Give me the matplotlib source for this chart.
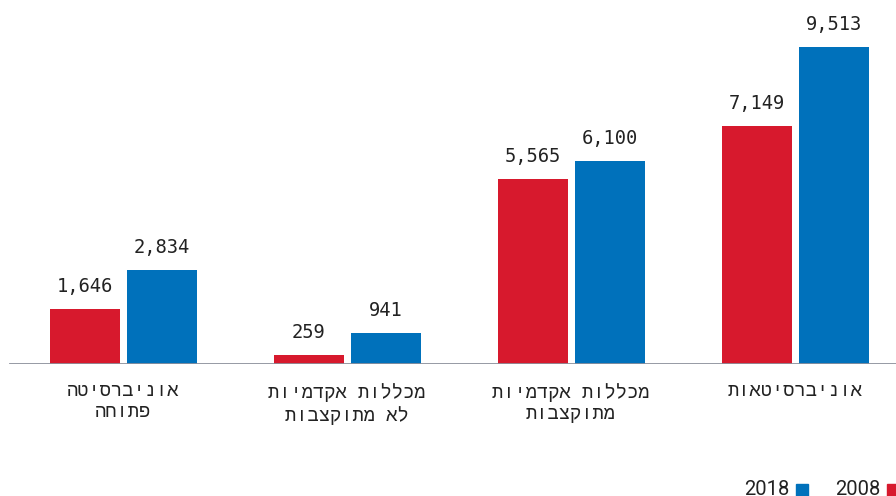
import matplotlib
matplotlib.use("Agg")
import matplotlib.pyplot as plt
import numpy as np

# student counts by institution type, left to right on the chart
categories = [
    ["אוניברסיטה", "פתוחה"],
    ["מכללות אקדמיות", "לא מתוקצבות"],
    ["מכללות אקדמיות", "מתוקצבות"],
    ["אוניברסיטאות"],
]
values_2008 = [1646, 259, 5565, 7149]
values_2018 = [2834, 941, 6100, 9513]
years = ["2008", "2018"]

red = "#d7192d"
blue = "#0071bb"
axis_gray = "#8c909c"
text_color = "#222222"
mono = ["Liberation Mono", "DejaVu Sans Mono"]
num_font = ["DejaVu Sans Mono"]


def rtl(s):
    # matplotlib has no bidi support, so flip Hebrew lines by hand
    return s[::-1]


W, H = 896, 496
fig = plt.figure(figsize=(W / 100, H / 100), dpi=100)
base_px = 132
ax = fig.add_axes([0, base_px / H, 1, 1 - base_px / H])

px_per_unit = 317 / 9513
group_px = 224
first_center = 123
ax.set_xlim(-first_center / group_px, (W - first_center) / group_px)
ax.set_ylim(0, (H - base_px) / px_per_unit)
ax.axis("off")

x = np.arange(len(categories))
bw = 70 / group_px
off = 38.5 / group_px
bars_a = ax.bar(x - off, values_2008, bw, color=red, zorder=2)
bars_b = ax.bar(x + off, values_2018, bw, color=blue, zorder=2)

for bars, vals in [(bars_a, values_2008), (bars_b, values_2018)]:
    for b, v in zip(bars, vals):
        ax.annotate(f"{v:,}", (b.get_x() + b.get_width() / 2, v),
                    xytext=(0, 13), textcoords="offset pixels",
                    ha="center", va="bottom", fontsize=13.5,
                    family=num_font, color=text_color)

ax.axhline(0, xmin=10 / W, xmax=1, color=axis_gray, lw=2, zorder=3)

for xi, lines in zip(x, categories):
    label = "\n".join(rtl(l) for l in lines)
    ax.annotate(label, (xi, 0), xytext=(0, -19), textcoords="offset pixels",
                ha="center", va="top", fontsize=13.5, family=mono,
                color=text_color, linespacing=1.3, annotation_clip=False)

# legend along the bottom right, swatch to the right of each year
legend_items = [(years[0], red, 887), (years[1], blue, 796)]
for year, color, sx in legend_items:
    fig.patches.append(plt.Rectangle((sx / W, 0), 12 / W, 12 / H,
                                     transform=fig.transFigure,
                                     color=color, figure=fig))
    fig.text((sx - 7) / W, -3 / H, year, ha="right", va="bottom",
             fontsize=14.5, family="Roboto", color=text_color)

fig.savefig("out.png", dpi=100)
